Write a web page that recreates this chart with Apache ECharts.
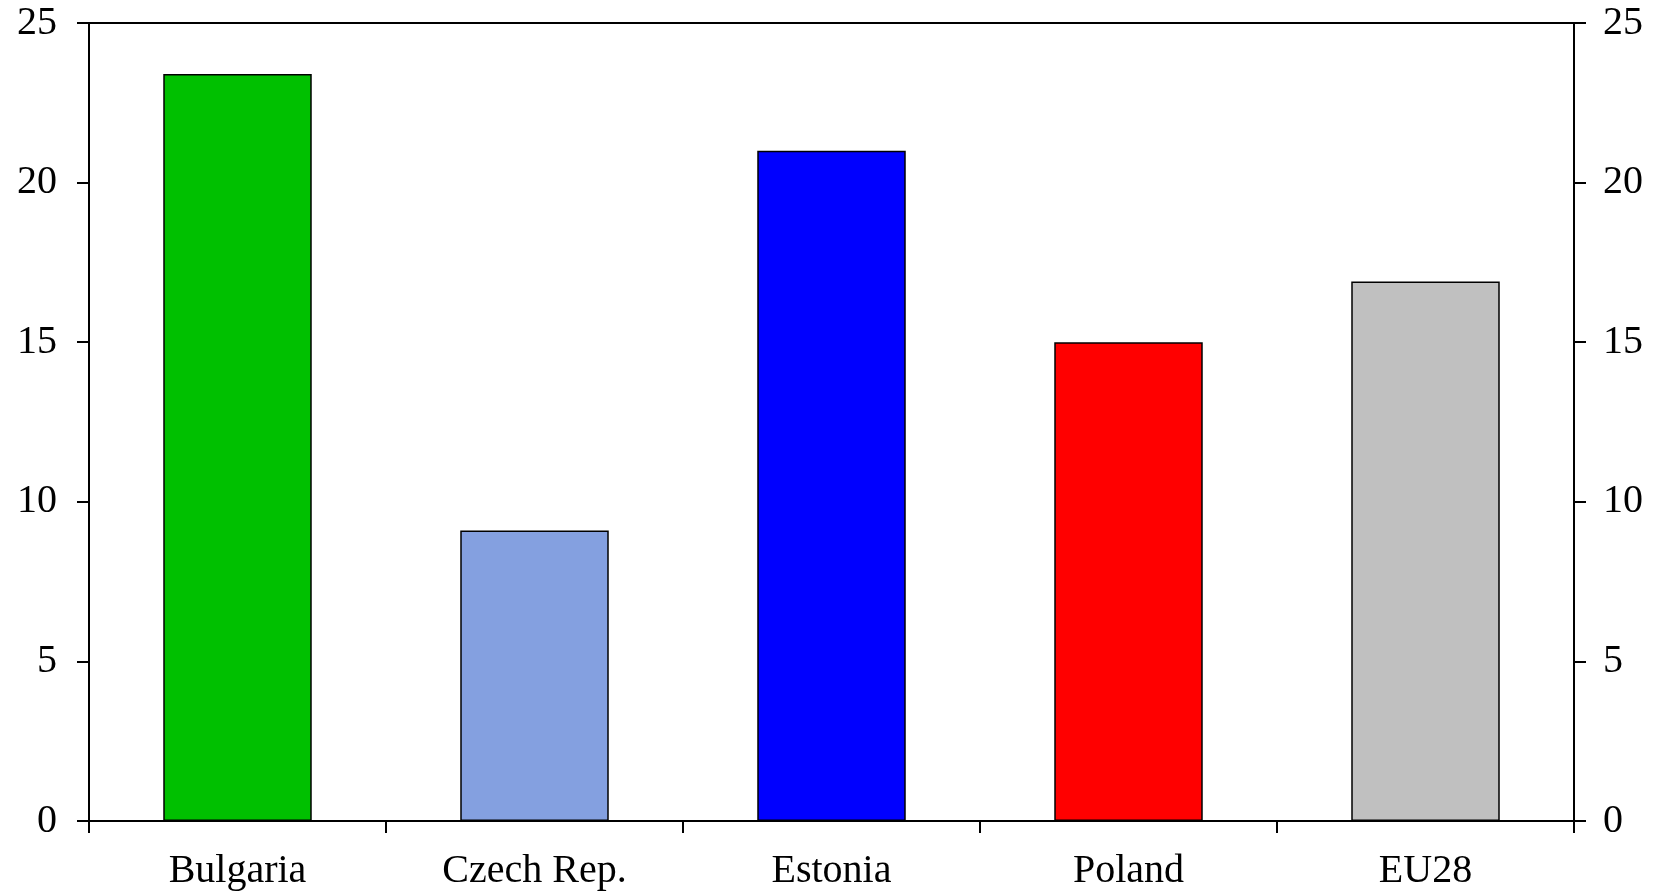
<!DOCTYPE html>
<html>
<head>
<meta charset="utf-8">
<script src="https://cdn.jsdelivr.net/npm/echarts@6/dist/echarts.min.js"></script>
<style>
  html, body { margin: 0; padding: 0; background: #fff; }
  #chart { width: 1657px; height: 893px; }
</style>
</head>
<body>
<div id="chart"></div>
<script>
const categories = ['Bulgaria', 'Czech Rep.', 'Estonia', 'Poland', 'EU28'];
const values = [23.4, 9.1, 21.0, 15.0, 16.9];
const barColors = ['#00C000', '#84A0E0', '#0000FF', '#FF0000', '#C0C0C0'];

const font = 'Liberation Serif, Times New Roman, serif';
const axisLine = { show: true, lineStyle: { color: '#000', width: 2 } };
const tick = { show: true, length: 12, lineStyle: { color: '#000', width: 2 } };

const chart = echarts.init(document.getElementById('chart'));
chart.setOption({
  animation: false,
  backgroundColor: '#fff',
  grid: {
    left: 89, right: 83, top: 23, bottom: 72,
    show: true, borderColor: '#000', borderWidth: 2, backgroundColor: 'transparent'
  },
  xAxis: {
    type: 'category',
    data: categories,
    axisLine: axisLine,
    axisTick: Object.assign({ alignWithLabel: false, inside: false }, tick),
    axisLabel: { color: '#000', fontFamily: font, fontSize: 40, margin: 30 }
  },
  yAxis: [
    {
      type: 'value', min: 0, max: 25, interval: 5, position: 'left',
      axisLine: axisLine, axisTick: tick, splitLine: { show: false },
      axisLabel: { color: '#000', fontFamily: font, fontSize: 40, margin: 32 }
    },
    {
      type: 'value', min: 0, max: 25, interval: 5, position: 'right',
      axisLine: axisLine, axisTick: tick, splitLine: { show: false },
      axisLabel: { color: '#000', fontFamily: font, fontSize: 40, margin: 29 }
    }
  ],
  series: [{
    type: 'bar',
    data: values.map((v, i) => ({
      value: v,
      itemStyle: { color: barColors[i], borderColor: '#000', borderWidth: 1.5 }
    })),
    barWidth: '50%'
  }]
});
</script>
</body>
</html>
